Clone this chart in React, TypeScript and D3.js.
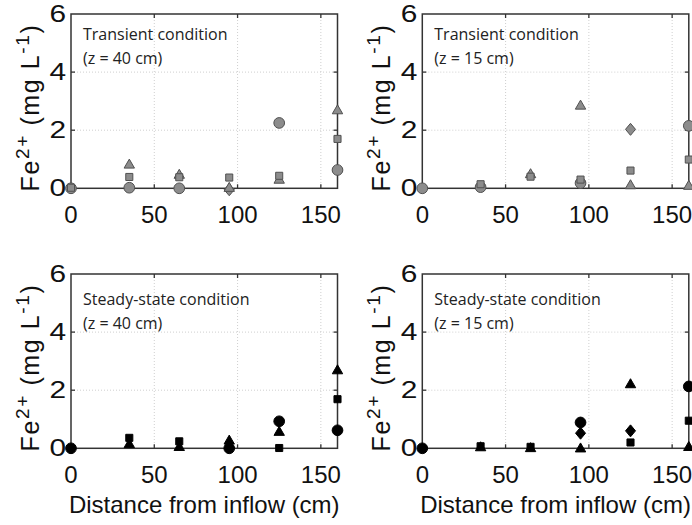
import { scaleLinear, symbol, symbolCircle, symbolSquare } from "d3";

// distances from inflow (cm) where samples were taken
const distance = [0, 35, 65, 95, 125, 160];
const xTicks = [0, 50, 100, 150];
const yTicks = [0, 2, 4, 6];

// Fe2+ (mg/L), one array per marker, null = no visible point
const tr40Circle = [0, 0.02, 0, null, 2.25, 0.63];
const tr40Square = [0.02, 0.39, 0.38, 0.37, 0.43, 1.7];
const tr40Triangle = [null, 0.85, 0.5, 0.05, 0.33, 2.72];
const tr40Diamond = [null, null, null, -0.05, null, null];

const tr15Circle = [0, 0.04, null, 0.18, null, 2.15];
const tr15Square = [null, 0.14, 0.4, 0.3, 0.61, 0.99];
const tr15Triangle = [null, null, 0.52, 2.88, 0.14, 0.12];
const tr15Diamond = [null, null, null, null, 2.03, null];

const ss40Circle = [0, null, null, 0, 0.93, 0.62];
const ss40Square = [null, 0.36, 0.24, null, 0.01, 1.69];
const ss40Triangle = [null, 0.18, 0.08, 0.3, 0.6, 2.72];
const ss40Diamond = [null, null, null, null, null, null];

const ss15Circle = [0, null, null, 0.89, null, 2.13];
const ss15Square = [null, 0.07, 0.05, null, 0.2, 0.95];
const ss15Triangle = [null, 0.07, 0.04, 0.03, 2.24, 0.08];
const ss15Diamond = [null, null, null, 0.52, 0.6, null];

// matlab-like markers (centred on their bounding box)
const triangleType = {
  draw(ctx, size) {
    const w = 10.4, h = 9;
    ctx.moveTo(0, -h / 2);
    ctx.lineTo(w / 2, h / 2);
    ctx.lineTo(-w / 2, h / 2);
    ctx.closePath();
  },
};
const diamondType = {
  draw(ctx, size) {
    const w = 10, h = 12;
    ctx.moveTo(0, -h / 2);
    ctx.lineTo(w / 2, 0);
    ctx.lineTo(0, h / 2);
    ctx.lineTo(-w / 2, 0);
    ctx.closePath();
  },
};

const markers = {
  circle: symbol(symbolCircle, 90)(),
  square: symbol(symbolSquare, 50)(),
  triangle: symbol(triangleType, 0)(),
  diamond: symbol(diamondType, 0)(),
};

const W = 266.5;
const H = 174.3;
const axisFont = "'Liberation Sans', Arial, Helvetica, sans-serif";
const noteFont = "'Open Sans', 'Noto Sans', sans-serif";

function Panel({ left, top, title, depth, noteTop, series, fill, stroke, xLabel }) {
  const x = scaleLinear().domain([0, 160]).range([0, W]);
  const y = scaleLinear().domain([0, 6]).range([H, 0]);
  const axisColor = "#333";

  return (
    <g transform={`translate(${left},${top})`}>
      {/* grid */}
      {xTicks.filter(t => t > 0).map(t => (
        <line key={`gx${t}`} x1={x(t)} x2={x(t)} y1={0} y2={H}
          stroke="#cfcfcf" strokeWidth={1} strokeDasharray="1,2" />
      ))}
      {yTicks.filter(t => t > 0 && t < 6).map(t => (
        <line key={`gy${t}`} x1={0} x2={W} y1={y(t)} y2={y(t)}
          stroke="#cfcfcf" strokeWidth={1} strokeDasharray="1,2" />
      ))}

      {/* ticks, inside */}
      {xTicks.filter(t => t > 0).map(t => (
        <g key={`tx${t}`} stroke={axisColor} strokeWidth={1.3}>
          <line x1={x(t)} x2={x(t)} y1={H} y2={H - 4} />
          <line x1={x(t)} x2={x(t)} y1={0} y2={4} />
        </g>
      ))}
      {yTicks.filter(t => t > 0 && t < 6).map(t => (
        <g key={`ty${t}`} stroke={axisColor} strokeWidth={1.3}>
          <line x1={0} x2={4} y1={y(t)} y2={y(t)} />
          <line x1={W} x2={W - 4} y1={y(t)} y2={y(t)} />
        </g>
      ))}

      <rect x={0} y={0} width={W} height={H} fill="none" stroke={axisColor} strokeWidth={1.5} />

      {/* tick labels */}
      {xTicks.map(t => (
        <text key={`lx${t}`} x={x(t)} y={H + 34.5} textAnchor="middle"
          fontFamily={axisFont} fontSize={24} fill="#111">{t}</text>
      ))}
      {yTicks.map(t => (
        <text key={`ly${t}`} transform={`translate(-5,${y(t) + 8}) scale(1.3,1)`} textAnchor="end"
          fontFamily={axisFont} fontSize={23} fill="#111">{t}</text>
      ))}

      <text transform={`translate(-32,${93.5}) rotate(-90)`} textAnchor="middle"
        fontFamily={axisFont} fontSize={25} fill="#111" letterSpacing={1.6}>
        Fe<tspan fontSize={19} dy={-10}>2+</tspan>
        <tspan dy={10}> (mg L</tspan>
        <tspan fontSize={19} dy={-10}>-1</tspan>
        <tspan dy={10}>)</tspan>
      </text>

      {xLabel && (
        <text x={W / 2} y={H + 65} textAnchor="middle" fontFamily={axisFont}
          fontSize={24} fill="#111">Distance from inflow (cm)</text>
      )}

      <text x={12} y={noteTop} fontFamily={noteFont} fontSize={16} fill="#222">
        <tspan x={12}>{title}</tspan>
        <tspan x={12} dy={24}>{depth}</tspan>
      </text>

      {/* data */}
      {series.map(s =>
        s.values.map((v, i) =>
          v === null ? null : (
            <path key={`${s.shape}-${i}`} d={markers[s.shape]}
              transform={`translate(${x(distance[i])},${y(v)})`}
              fill={fill} stroke={stroke} strokeWidth={1} />
          )
        )
      )}
    </g>
  );
}

export default function App() {
  const mk = (c, t, s, d) => [
    { shape: "diamond", values: d },
    { shape: "circle", values: c },
    { shape: "triangle", values: t },
    { shape: "square", values: s },
  ];
  const gray = { fill: "#8c8c8c", stroke: "#505050" };
  const black = { fill: "#000", stroke: "#000" };

  return (
    <svg width={692} height={525} style={{ position: "absolute", left: 0, top: 0, background: "#fff" }}>
      <Panel left={71} top={14} title="Transient condition" depth="(z = 40 cm)" noteTop={26}
        series={mk(tr40Circle, tr40Triangle, tr40Square, tr40Diamond)} {...gray} />
      <Panel left={422.3} top={14} title="Transient condition" depth="(z = 15 cm)" noteTop={26}
        series={mk(tr15Circle, tr15Triangle, tr15Square, tr15Diamond)} {...gray} />
      <Panel left={71} top={274} title="Steady-state condition" depth="(z = 40 cm)" noteTop={30.5}
        series={mk(ss40Circle, ss40Triangle, ss40Square, ss40Diamond)} {...black} xLabel />
      <Panel left={422.3} top={274} title="Steady-state condition" depth="(z = 15 cm)" noteTop={30.5}
        series={mk(ss15Circle, ss15Triangle, ss15Square, ss15Diamond)} {...black} xLabel />
    </svg>
  );
}
